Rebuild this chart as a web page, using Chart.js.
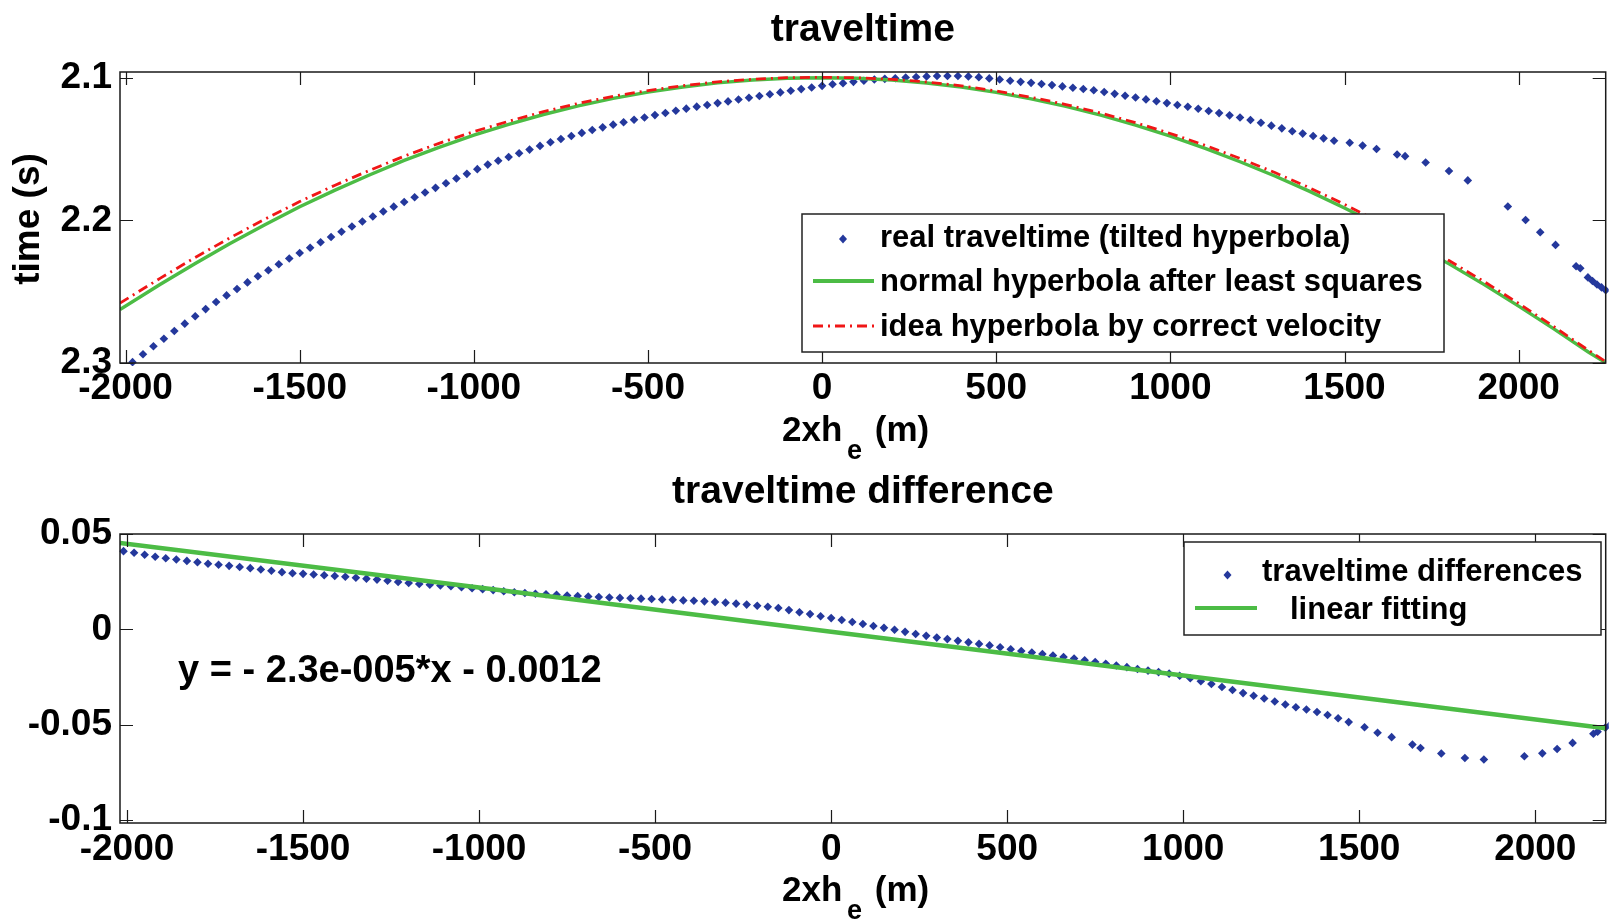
<!DOCTYPE html>
<html><head><meta charset="utf-8">
<script src="https://cdn.jsdelivr.net/npm/chart.js@4.4.1/dist/chart.umd.min.js"></script>
<style>
html,body{margin:0;padding:0;background:#fff;}
#wrap{position:relative;width:1610px;height:921px;overflow:hidden;background:#fff;}
canvas{position:absolute;left:0;}
#c1{top:0;}
#c2{top:460px;}
</style></head><body>
<div id="wrap"><canvas id="c1" width="1610" height="470"></canvas><canvas id="c2" width="1610" height="461"></canvas></div>
<script>
const FONT = "'Liberation Sans', Arial, Helvetica, sans-serif";
const BLUE = '#24389c', GREEN = '#4cbc45', RED = '#f01616';

// ---- data ----
const xReal = [-2010,-1980,-1950,-1920,-1890,-1860,-1830,-1800,-1770,-1740,
  -1710,-1680,-1650,-1620,-1590,-1560,-1530,-1500,-1470,-1440,
  -1410,-1380,-1350,-1320,-1290,-1260,-1230,-1200,-1170,-1140,
  -1110,-1080,-1050,-1020,-990,-960,-930,-900,-870,-840,
  -810,-780,-750,-720,-690,-660,-630,-600,-570,-540,
  -510,-480,-450,-420,-390,-360,-330,-300,-270,-240,
  -210,-180,-150,-120,-90,-60,-30,0,30,60,
  90,120,150,180,210,240,270,300,330,360,
  390,420,450,480,510,540,570,600,630,660,
  690,720,750,780,810,840,870,900,930,960,
  990,1020,1050,1080,1110,1140,1170,1200,1230,1260,
  1290,1320,1350,1380,1410,1440,1470,
  1515,1552,1592,1651,1674,1733,1800,1854,1969,2020,2062,2106,2165,2177,2199,2212,2225,2238,2250];

const tReal = [2.3060,2.2994,2.2939,2.2883,2.2830,2.2776,2.2724,2.2672,2.2622,2.2572,
  2.2526,2.2481,2.2435,2.2392,2.2350,2.2308,2.2267,2.2229,2.2192,2.2154,
  2.2117,2.2080,2.2043,2.2008,2.1973,2.1938,2.1904,2.1871,2.1838,2.1805,
  2.1772,2.1740,2.1707,2.1674,2.1641,2.1609,2.1582,2.1556,2.1530,2.1504,
  2.1478,2.1452,2.1430,2.1409,2.1387,2.1367,2.1348,2.1329,2.1312,2.1295,
  2.1279,2.1262,2.1247,2.1232,2.1217,2.1203,2.1191,2.1178,2.1166,2.1153,
  2.1140,2.1128,2.1116,2.1103,2.1091,2.1080,2.1069,2.1057,2.1046,2.1038,
  2.1029,2.1021,2.1013,2.1008,2.1004,2.0999,2.0995,2.0991,2.0988,2.0988,
  2.0988,2.0991,2.0996,2.1005,2.1013,2.1021,2.1029,2.1036,2.1044,2.1052,
  2.1061,2.1070,2.1079,2.1088,2.1100,2.1113,2.1126,2.1139,2.1152,2.1165,
  2.1178,2.1191,2.1204,2.1218,2.1233,2.1248,2.1264,2.1279,2.1297,2.1316,
  2.1336,2.1355,2.1375,2.1392,2.1409,2.1425,2.1442,
  2.1456,2.1476,2.1500,2.1538,2.1550,2.1594,2.1654,2.1720,2.1903,2.1997,2.2083,2.2172,2.2322,2.2336,2.2400,2.2425,2.2450,2.2470,2.2490];

const dtReal = [0.0410,0.0402,0.0391,0.0381,0.0373,0.0366,0.0359,0.0352,0.0344,0.0339,
  0.0333,0.0327,0.0321,0.0314,0.0307,0.0300,0.0294,0.0291,0.0288,0.0284,
  0.0280,0.0276,0.0271,0.0266,0.0261,0.0255,0.0249,0.0243,0.0238,0.0234,
  0.0230,0.0226,0.0221,0.0216,0.0211,0.0206,0.0200,0.0195,0.0191,0.0187,
  0.0184,0.0181,0.0177,0.0175,0.0172,0.0170,0.0167,0.0165,0.0163,0.0161,
  0.0159,0.0157,0.0155,0.0152,0.0150,0.0147,0.0144,0.0140,0.0135,0.0130,
  0.0124,0.0119,0.0112,0.0101,0.0090,0.0080,0.0069,0.0059,0.0049,0.0039,
  0.0028,0.0018,0.0008,-0.0002,-0.0013,-0.0024,-0.0034,-0.0043,-0.0051,-0.0060,
  -0.0068,-0.0076,-0.0084,-0.0094,-0.0104,-0.0113,-0.0121,-0.0129,-0.0137,-0.0145,
  -0.0153,-0.0162,-0.0171,-0.0180,-0.0189,-0.0198,-0.0208,-0.0216,-0.0224,-0.0232,
  -0.0243,-0.0256,-0.0272,-0.0286,-0.0302,-0.0318,-0.0334,-0.0348,-0.0362,-0.0378,
  -0.0394,-0.0408,-0.0420,-0.0433,-0.0449,-0.0466,-0.0486,
  -0.0513,-0.0542,-0.0565,-0.0604,-0.0622,-0.0651,-0.0674,-0.0682,-0.0665,-0.0650,-0.0627,-0.0595,-0.0547,-0.0536,-0.0515,-0.0502,-0.0490,-0.0480,-0.0470];

const xHyp = [-2016,-1900,-1800,-1700,-1600,-1500,-1400,-1300,-1200,-1100,
  -1000,-900,-800,-700,-600,-500,-400,-300,-200,-100,
  0,100,200,300,400,500,600,700,800,900,
  1000,1100,1200,1300,1400,1500,1600,1700,1800,1900,
  2000,2100,2200,2250];
const tNormal = [2.2625,2.2448,2.2302,2.2162,2.2030,2.1905,2.1790,2.1682,2.1580,2.1488,
  2.1403,2.1327,2.1258,2.1197,2.1145,2.1101,2.1065,2.1036,2.1016,2.1004,
  2.1000,2.1004,2.1016,2.1037,2.1065,2.1103,2.1148,2.1201,2.1263,2.1332,
  2.1410,2.1495,2.1589,2.1689,2.1797,2.1914,2.2037,2.2168,2.2305,2.2449,
  2.2601,2.2759,2.2923,2.2998];
const tIdeal = [2.2580,2.2405,2.2260,2.2122,2.1992,2.1868,2.1755,2.1650,2.1550,2.1460,
  2.1378,2.1305,2.1238,2.1180,2.1130,2.1090,2.1056,2.1029,2.1011,2.1000,
  2.0997,2.1000,2.1011,2.1030,2.1057,2.1093,2.1137,2.1188,2.1248,2.1315,
  2.1391,2.1474,2.1566,2.1665,2.1772,2.1888,2.2012,2.2143,2.2282,2.2428,
  2.2582,2.2743,2.2910,2.2990];

const xFit = [-2020,-1000,0,1000,2200];
const dFit = [0.0453,0.0220,-0.0012,-0.0242,-0.0518];

const xTicks = [-2000,-1500,-1000,-500,0,500,1000,1500,2000];
const xTickLabels = ['-2000','-1500','-1000','-500','0','500','1000','1500','2000'];
const yTicksTop = [2.1,2.2,2.3];
const yTickLabelsTop = ['2.1','2.2','2.3'];
const yTicksBot = [0.05,0,-0.05,-0.1];
const yTickLabelsBot = ['0.05','0','-0.05','-0.1'];

const pts = (xs, ys) => xs.map((v, i) => ({x: v, y: ys[i]}));
const tickFont = {family: FONT, size: 37, weight: 'bold', lineHeight: 1.2};

function diamond(ctx, x, y) {
  ctx.beginPath();
  ctx.moveTo(x, y - 4.5); ctx.lineTo(x + 4, y); ctx.lineTo(x, y + 4.5); ctx.lineTo(x - 4, y);
  ctx.closePath(); ctx.fill();
}

const matlabPlugin = {
  id: 'matlab',
  afterDraw(chart, args, o) {
    const {ctx, chartArea: a} = chart;
    const xs = chart.scales.x, ys = chart.scales.y;
    ctx.save();
    ctx.strokeStyle = '#1a1a1a'; ctx.lineWidth = 1.2;
    ctx.beginPath();
    const L = o.tickLen;
    o.xTicks.forEach(v => {
      const p = Math.round(xs.getPixelForValue(v)) + 0.5;
      ctx.moveTo(p, a.bottom); ctx.lineTo(p, a.bottom - L);
      ctx.moveTo(p, a.top); ctx.lineTo(p, a.top + L);
    });
    o.yTicks.forEach(v => {
      const p = Math.round(ys.getPixelForValue(v)) + 0.5;
      ctx.moveTo(a.left, p); ctx.lineTo(a.left + L, p);
      ctx.moveTo(a.right, p); ctx.lineTo(a.right - L, p);
    });
    ctx.stroke();
    ctx.lineWidth = 1.5;
    ctx.strokeRect(a.left, a.top, a.right - a.left, a.bottom - a.top);

    ctx.fillStyle = '#000';
    if (o.note) {
      ctx.font = 'bold 38px ' + FONT;
      ctx.textAlign = 'left'; ctx.textBaseline = 'alphabetic';
      ctx.fillText(o.note.text, xs.getPixelForValue(o.note.x), ys.getPixelForValue(o.note.y));
    }
    if (o.legend) {
      const lg = o.legend;
      ctx.fillStyle = '#fff';
      ctx.fillRect(lg.box[0], lg.box[1], lg.box[2] - lg.box[0], lg.box[3] - lg.box[1]);
      ctx.strokeStyle = '#222'; ctx.lineWidth = 1.5;
      ctx.strokeRect(lg.box[0], lg.box[1], lg.box[2] - lg.box[0], lg.box[3] - lg.box[1]);
      ctx.font = 'bold 31px ' + FONT;
      ctx.textAlign = 'left'; ctx.textBaseline = 'middle';
      lg.items.forEach(it => {
        if (it.type === 'marker') {
          ctx.fillStyle = it.color; diamond(ctx, it.mx, it.my);
        } else {
          ctx.strokeStyle = it.color; ctx.lineWidth = it.width;
          ctx.setLineDash(it.dash || []);
          ctx.beginPath(); ctx.moveTo(it.x1, it.ly); ctx.lineTo(it.x2, it.ly); ctx.stroke();
          ctx.setLineDash([]);
        }
        ctx.fillStyle = '#000';
        ctx.fillText(it.text, it.tx, it.ty);
      });
    }
    ctx.fillStyle = '#000';
    ctx.textAlign = 'left'; ctx.textBaseline = 'alphabetic';
    ctx.font = 'bold 35px ' + FONT;
    ctx.fillText('2xh', 782, o.xlabBase);
    ctx.font = 'bold 27px ' + FONT;
    ctx.fillText('e', 847, o.xlabBase + 18);
    ctx.font = 'bold 35px ' + FONT;
    ctx.fillText(' (m)', 865, o.xlabBase);
    if (o.ylabel) {
      ctx.translate(29, 219);
      ctx.rotate(-Math.PI / 2);
      ctx.font = 'bold 37px ' + FONT;
      ctx.textAlign = 'center'; ctx.textBaseline = 'middle';
      ctx.fillText(o.ylabel, 0, 0);
    }
    ctx.restore();
  }
};

function axisOpts(min, max, ticks, labels, fit, pad, reverse) {
  return {
    type: 'linear', min: min, max: max, reverse: !!reverse,
    afterBuildTicks: s => { s.ticks = ticks.map(v => ({value: v})); },
    afterFit: fit,
    grid: {display: false, drawTicks: false},
    border: {display: false},
    ticks: {autoSkip: false, maxRotation: 0, minRotation: 0, padding: pad, color: '#000',
      font: tickFont, callback: (v, i) => labels[i]}
  };
}

new Chart(document.getElementById('c1'), {
  type: 'scatter',
  data: {datasets: [
    {label: 'idea hyperbola by correct velocity', data: pts(xHyp, tIdeal), showLine: true,
     borderColor: RED, borderWidth: 2.8, borderDash: [10, 5, 2, 5], pointRadius: 0, order: 0, clip: 0},
    {label: 'normal hyperbola after least squares', data: pts(xHyp, tNormal), showLine: true,
     borderColor: GREEN, borderWidth: 3.4, pointRadius: 0, order: 1, clip: 0},
    {label: 'real traveltime (tilted hyperbola)', data: pts(xReal, tReal), showLine: false,
     pointStyle: 'rectRot', pointRadius: 4.3, backgroundColor: BLUE, borderWidth: 0, order: 2, clip: 3}
  ]},
  options: {
    responsive: false, animation: false, devicePixelRatio: 1,
    layout: {padding: {left: 0, right: 2, top: 0, bottom: 0}},
    plugins: {
      legend: {display: false}, tooltip: {enabled: false},
      title: {display: true, text: 'traveltime', fullSize: false, color: '#000',
        font: {family: FONT, size: 39, weight: 'bold', lineHeight: 1.2}, padding: {top: 6.8, bottom: 18.4}},
      matlab: {
        tickLen: 13, xTicks: xTicks, yTicks: yTicksTop, xlabBase: 440.5, ylabel: 'time (s)',
        legend: {box: [802, 214, 1444, 352], items: [
          {type: 'marker', color: BLUE, mx: 843, my: 239, text: 'real traveltime (tilted hyperbola)', tx: 880, ty: 238},
          {type: 'line', color: GREEN, width: 4, x1: 813, x2: 874, ly: 281, text: 'normal hyperbola after least squares', tx: 880, ty: 282},
          {type: 'line', color: RED, width: 2.8, dash: [10, 5, 2, 5], x1: 813, x2: 874, ly: 326, text: 'idea hyperbola by correct velocity', tx: 880, ty: 327}
        ]}
      }
    },
    scales: {
      x: axisOpts(-2016, 2250, xTicks, xTickLabels, s => { s.height = 107; }, 4),
      y: axisOpts(2.096, 2.3, yTicksTop, yTickLabelsTop, s => { s.width = 120; }, 8, true)
    }
  },
  plugins: [matlabPlugin]
});

new Chart(document.getElementById('c2'), {
  type: 'scatter',
  data: {datasets: [
    {label: 'linear fitting', data: pts(xFit, dFit), showLine: true,
     borderColor: GREEN, borderWidth: 4.5, pointRadius: 0, order: 0, clip: 0},
    {label: 'traveltime differences', data: pts(xReal, dtReal), showLine: false,
     pointStyle: 'rectRot', pointRadius: 4.3, backgroundColor: BLUE, borderWidth: 0, order: 1, clip: 3}
  ]},
  options: {
    responsive: false, animation: false, devicePixelRatio: 1,
    layout: {padding: {left: 0, right: 3, top: 0, bottom: 0}},
    plugins: {
      legend: {display: false}, tooltip: {enabled: false},
      title: {display: true, text: 'traveltime difference', fullSize: false, color: '#000',
        font: {family: FONT, size: 39, weight: 'bold', lineHeight: 1.2}, padding: {top: 8.8, bottom: 18.4}},
      matlab: {
        tickLen: 13, xTicks: xTicks, yTicks: yTicksBot, xlabBase: 440.5,
        note: {text: 'y = - 2.3e-005*x - 0.0012', x: -1855, y: -0.0276},
        legend: {box: [1184, 82, 1601, 175], items: [
          {type: 'marker', color: BLUE, mx: 1227.5, my: 115, text: 'traveltime differences', tx: 1262, ty: 112.5},
          {type: 'line', color: GREEN, width: 4, x1: 1195, x2: 1257, ly: 148, text: 'linear fitting', tx: 1290, ty: 150}
        ]}
      }
    },
    scales: {
      x: axisOpts(-2020, 2200, xTicks, xTickLabels, s => { s.height = 98; }, 5),
      y: axisOpts(-0.1015, 0.05, yTicksBot, yTickLabelsBot, s => { s.width = 120; }, 8)
    }
  },
  plugins: [matlabPlugin]
});
</script>
</body></html>
